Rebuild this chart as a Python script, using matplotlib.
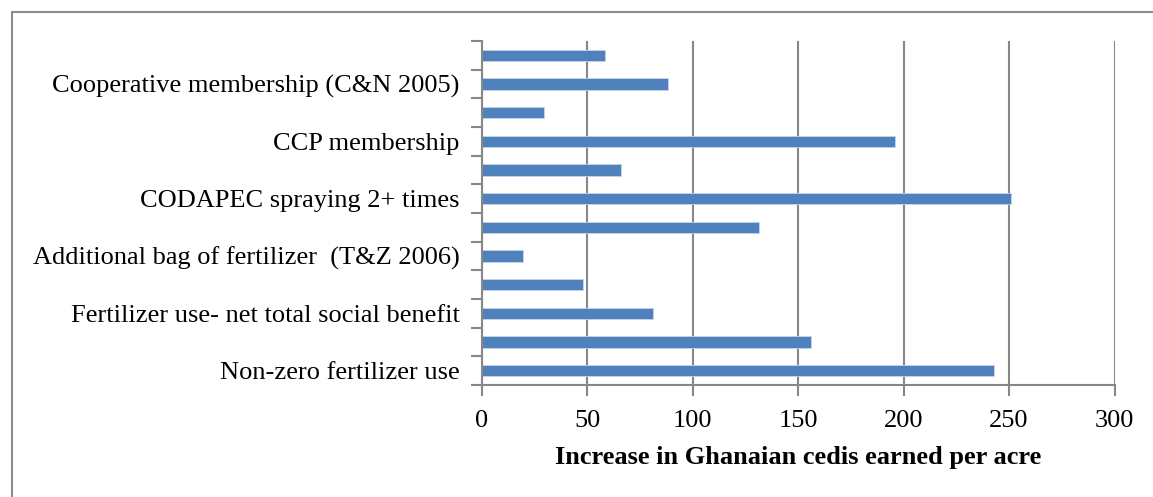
import matplotlib
matplotlib.use("Agg")
import matplotlib.pyplot as plt
from matplotlib.patches import Rectangle

# Categories from bottom to top; every other bar carries a label
categories = [
    "Non-zero fertilizer use",
    "",
    "Fertilizer use- net total social benefit",
    "",
    "Additional bag of fertilizer  (T&Z 2006)",
    "",
    "CODAPEC spraying 2+ times",
    "",
    "CCP membership",
    "",
    "Cooperative membership (C&N 2005)",
    "",
]
values = [243, 156, 81, 48, 19.5, 131.5, 251, 66, 196, 29.5, 88, 58.5]
x_ticks = [0, 50, 100, 150, 200, 250, 300]
x_label = "Increase in Ghanaian cedis earned per acre"

plt.rcParams["font.family"] = ["Liberation Serif", "DejaVu Serif"]

W, H = 1153, 497
fig = plt.figure(figsize=(W / 100, H / 100), dpi=100)

# Chart-area frame
fig.add_artist(Rectangle((12 / W, -0.01), 1.2, (H - 12) / H + 0.01,
                         transform=fig.transFigure, fill=False,
                         edgecolor="#8c8c8c", linewidth=1.5))

left, right, top, bottom = 482, 1114.5, 41, 385
ax = fig.add_axes([left / W, (H - bottom) / H, (right - left) / W, (bottom - top) / H])

grid_color = "#878787"
pos = list(range(len(values)))
ax.barh(pos, values, height=0.4, color="#4f81bd", edgecolor="#c6d5ea", linewidth=0.6, zorder=3)

ax.set_xlim(0, 300)
ax.set_ylim(-0.5, len(values) - 0.5)
ax.set_xticks(x_ticks)
ax.set_xticklabels([str(t) for t in x_ticks], fontsize=19)
ax.xaxis.grid(True, color=grid_color, linewidth=1.5, zorder=0)

# Category ticks sit on the boundaries between bars
ax.set_yticks([p - 0.5 for p in pos] + [len(values) - 0.5])
ax.set_yticklabels([])
ax.set_yticks(pos, minor=True)
ax.set_yticklabels(categories, minor=True, fontsize=19)
ax.tick_params(axis="y", which="minor", length=0, pad=16)
ax.tick_params(axis="y", which="major", length=8, width=1.5, color=grid_color, direction="out")
ax.tick_params(axis="x", length=8, width=1.5, color=grid_color, direction="out", pad=10)

for side in ("top", "right"):
    ax.spines[side].set_visible(False)
for side in ("left", "bottom"):
    ax.spines[side].set_color(grid_color)
    ax.spines[side].set_linewidth(1.5)
    ax.spines[side].set_zorder(4)

ax.set_xlabel(x_label, fontsize=19, fontweight="bold", labelpad=10)

fig.savefig("out.png", dpi=100)
